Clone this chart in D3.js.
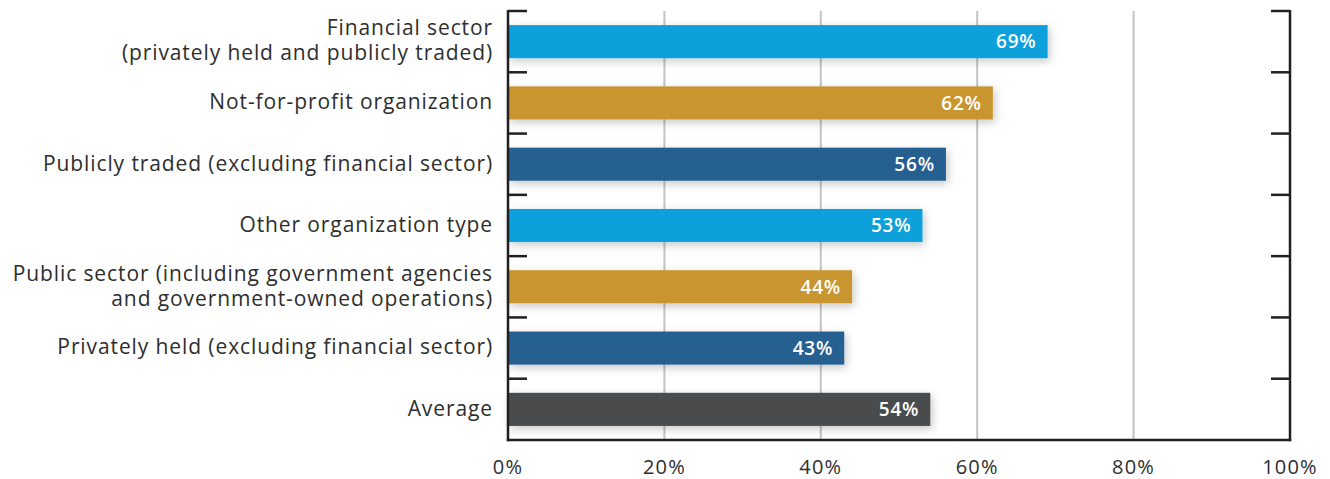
<!DOCTYPE html>
<html><head><meta charset="utf-8">
<script src="https://cdn.jsdelivr.net/npm/d3@7"></script>
<style>html,body{margin:0;padding:0;background:#fff;}svg{display:block;}</style>
</head><body>
<svg id="chart" width="1330" height="479"></svg>
<script>
const categories = [
  ["Financial sector", "(privately held and publicly traded)"],
  ["Not-for-profit organization"],
  ["Publicly traded (excluding financial sector)"],
  ["Other organization type"],
  ["Public sector (including government agencies", "and government-owned operations)"],
  ["Privately held (excluding financial sector)"],
  ["Average"]
];
const values = [69, 62, 56, 53, 44, 43, 54];
const barColors = ["#0ba0db", "#c9952d", "#256190", "#0ba0db", "#c9952d", "#256190", "#4a4b4d"];
const xTicks = [0, 20, 40, 60, 80, 100];
const xTickLabels = ["0%", "20%", "40%", "60%", "80%", "100%"];

(function () {
const svg = d3.select("#chart");
const mLeft = 508, mRight = 1290, mTop = 11, mBottom = 440;
const font = "'Open Sans', sans-serif";
const textColor = "#2e2e2e";

const x = d3.scaleLinear().domain([0, 100]).range([mLeft, mRight]);
const y = d3.scaleBand().domain(d3.range(categories.length)).range([mTop, mBottom]).paddingInner(0.46).paddingOuter(0.23);
const yEdge = d3.scaleLinear().domain([0, categories.length]).range([mTop, mBottom]);

const defs = svg.append("defs");
const f = defs.append("filter").attr("id", "shadow").attr("x", "-10%").attr("y", "-60%").attr("width", "120%").attr("height", "220%");
f.append("feDropShadow").attr("dx", 2).attr("dy", 3).attr("stdDeviation", 4).attr("flood-color", "#000").attr("flood-opacity", 0.22);

svg.append("g").selectAll("line").data(xTicks.slice(1, -1)).join("line")
  .attr("x1", d => x(d)).attr("x2", d => x(d))
  .attr("y1", mTop).attr("y2", mBottom)
  .attr("stroke", "#c4c4c6").attr("stroke-width", 2);

svg.append("g").selectAll("rect").data(values).join("rect")
  .attr("x", x(0)).attr("y", (d, i) => y(i))
  .attr("width", d => x(d) - x(0)).attr("height", y.bandwidth())
  .attr("fill", (d, i) => barColors[i])
  .attr("filter", "url(#shadow)");

svg.append("g").selectAll("text").data(values).join("text")
  .attr("x", d => x(d) - 11).attr("y", (d, i) => y(i) + y.bandwidth() / 2)
  .attr("dy", "0.36em").attr("text-anchor", "end")
  .attr("fill", "#fff").attr("font-family", font).attr("font-weight", 600).attr("font-size", 19)
  .attr("letter-spacing", 0.8)
  .text(d => d + "%");

const axisColor = "#231f20";
svg.append("line").attr("x1", mLeft).attr("x2", mLeft).attr("y1", mTop - 1).attr("y2", mBottom + 1.2).attr("stroke", axisColor).attr("stroke-width", 2.5);
svg.append("line").attr("x1", mRight).attr("x2", mRight).attr("y1", mTop - 1).attr("y2", mBottom + 1.2).attr("stroke", axisColor).attr("stroke-width", 2.5);
svg.append("line").attr("x1", mLeft - 1.2).attr("x2", mRight + 1.2).attr("y1", mBottom).attr("y2", mBottom).attr("stroke", axisColor).attr("stroke-width", 2.5);

const edges = d3.range(categories.length);
svg.append("g").selectAll("line").data(edges).join("line")
  .attr("x1", mLeft).attr("x2", mLeft + 19)
  .attr("y1", d => yEdge(d)).attr("y2", d => yEdge(d))
  .attr("stroke", axisColor).attr("stroke-width", 2.5);
svg.append("g").selectAll("line").data(edges).join("line")
  .attr("x1", mRight - 19).attr("x2", mRight)
  .attr("y1", d => yEdge(d)).attr("y2", d => yEdge(d))
  .attr("stroke", axisColor).attr("stroke-width", 2.5);

svg.append("g").selectAll("text").data(xTicks).join("text")
  .attr("x", d => x(d)).attr("y", 473.5)
  .attr("text-anchor", "middle").attr("fill", textColor)
  .attr("font-family", font).attr("font-size", 20).attr("letter-spacing", 1.2)
  .text((d, i) => xTickLabels[i]);

const lab = svg.append("g").selectAll("text").data(categories).join("text")
  .attr("text-anchor", "end").attr("fill", textColor)
  .attr("font-family", font).attr("font-size", 21).attr("letter-spacing", 0.9)
  .attr("transform", (d, i) => `translate(493,${y(i) + y.bandwidth() / 2})`);
lab.each(function(lines) {
  const t = d3.select(this);
  const lh = 25;
  lines.forEach((ln, j) => {
    t.append("tspan").attr("x", 0)
      .attr("y", (j - (lines.length - 1) / 2) * lh)
      .attr("dy", "0.3em").text(ln);
  });
});
})();
</script>
</body></html>
